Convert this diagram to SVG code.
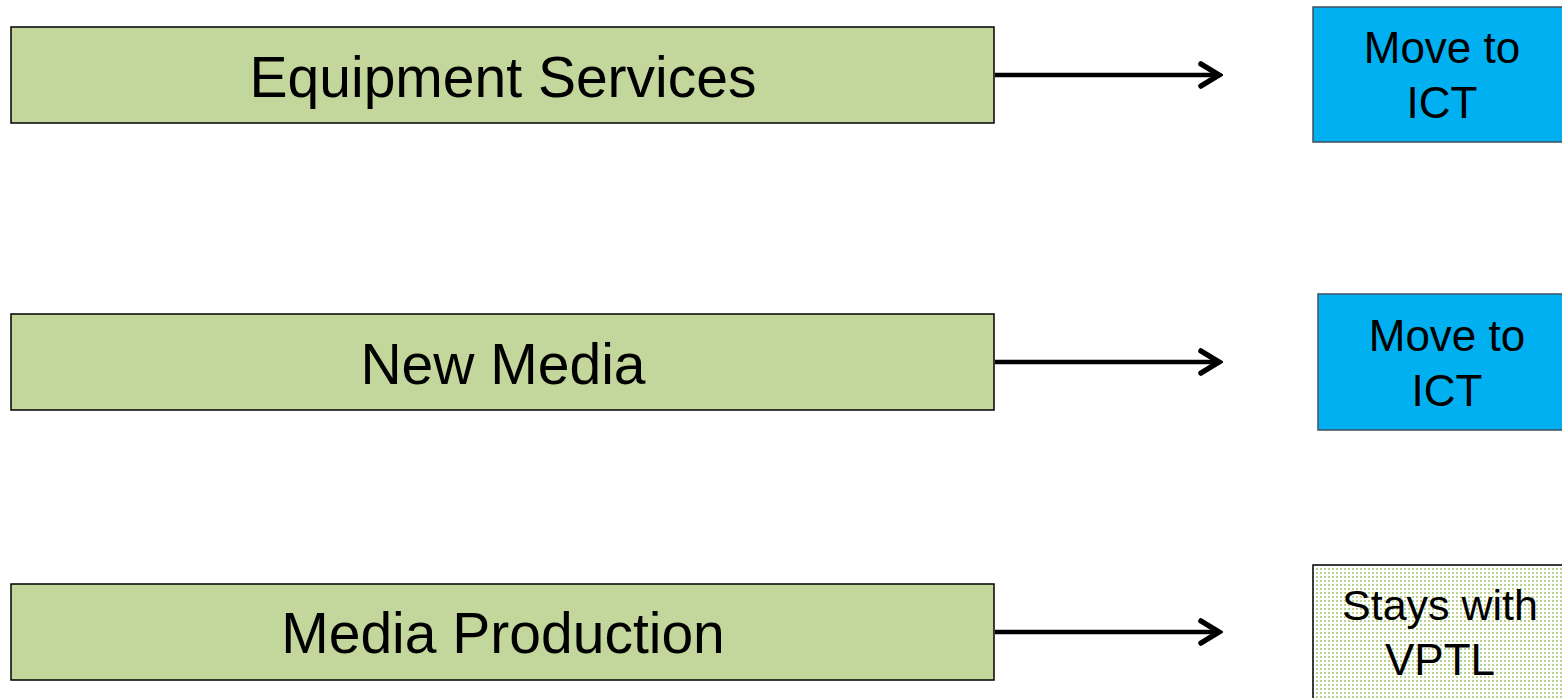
<svg xmlns="http://www.w3.org/2000/svg" width="1562" height="698" viewBox="0 0 1562 698">
<style>
.src{fill:#C3D69B;stroke:#000;stroke-width:1.5}
.ict{fill:#00B0F0;stroke:#3F5060;stroke-width:1.5}
.stay{fill:url(#dots);stroke:#000;stroke-width:1.5}
.big{font-family:"Liberation Sans",Arial,sans-serif;font-size:57px;fill:#000;text-anchor:middle}
.sm{font-family:"Liberation Sans",Arial,sans-serif;font-size:44px;fill:#000;text-anchor:middle}
.conn{stroke:#000;stroke-width:4.5;fill:none}
</style>
<defs>
<pattern id="dots" width="4" height="4" patternUnits="userSpaceOnUse">
<rect width="4" height="4" fill="#FFFFFF"/>
<rect x="0" y="0" width="2" height="2" fill="#B8D48C"/>
</pattern>
<marker id="arr" viewBox="0 0 26 30" refX="23" refY="15" markerWidth="26" markerHeight="30" markerUnits="userSpaceOnUse" orient="auto">
<path d="M4,4 L22,15 L4,26" fill="none" stroke="#000" stroke-width="5.5" stroke-linecap="round" stroke-linejoin="miter"/>
</marker>
</defs>
<rect width="1562" height="698" fill="#FFFFFF"/>
<g id="connectors">
<line class="conn" x1="995" y1="75" x2="1220" y2="75" marker-end="url(#arr)"/>
<line class="conn" x1="995" y1="362" x2="1220" y2="362" marker-end="url(#arr)"/>
<line class="conn" x1="995" y1="632" x2="1220" y2="632" marker-end="url(#arr)"/>
</g>
<g id="equipment-services">
<rect class="src" x="11" y="27" width="983" height="96"/>
<text class="big" x="503" y="97">Equipment Services</text>
</g>
<g id="new-media">
<rect class="src" x="11" y="314" width="983" height="96"/>
<text class="big" x="503" y="384">New Media</text>
</g>
<g id="media-production">
<rect class="src" x="11" y="584" width="983" height="96"/>
<text class="big" x="503" y="653">Media Production</text>
</g>
<g id="move-ict-1">
<rect class="ict" x="1313" y="7" width="260" height="135"/>
<text class="sm" x="1442" y="63">Move to</text>
<text class="sm" x="1442" y="118">ICT</text>
</g>
<g id="move-ict-2">
<rect class="ict" x="1318" y="294" width="260" height="136"/>
<text class="sm" x="1447" y="351">Move to</text>
<text class="sm" x="1447" y="406">ICT</text>
</g>
<g id="stays-vptl">
<rect class="stay" x="1313" y="565" width="260" height="140"/>
<text class="sm" x="1440" y="620" style="font-size:43px">Stays with</text>
<text class="sm" x="1440" y="675">VPTL</text>
</g>
</svg>
